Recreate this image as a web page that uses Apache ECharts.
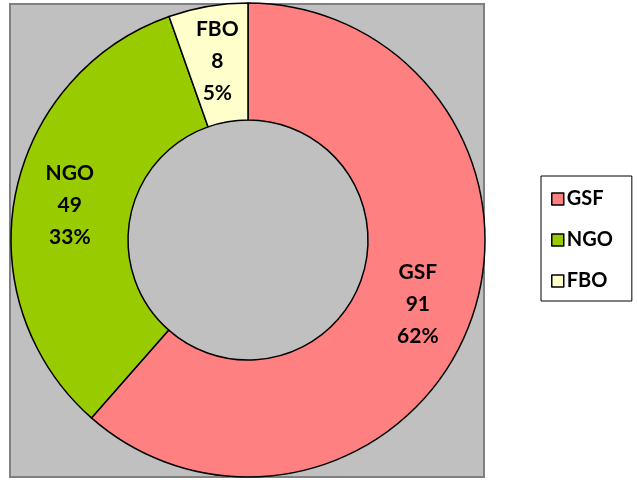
<!DOCTYPE html>
<html>
<head>
<meta charset="utf-8">
<script src="https://cdn.jsdelivr.net/npm/echarts@6/dist/echarts.min.js"></script>
<style>
  html, body { margin: 0; padding: 0; background: #fff; }
  #chart { width: 637px; height: 486px; }
</style>
</head>
<body>
<div id="chart"></div>
<script>
// data
const categories = ['GSF', 'NGO', 'FBO']
const values = [91, 49, 8]
const percents = [62, 33, 5] // as printed on the chart
const colors = ['#FF8080', '#99CC00', '#FFFFCC']

const myChart = echarts.init(document.getElementById('chart'))
const font = 'Lato, "Open Sans", sans-serif'

const option = {
  animation: false,
  // grey plot area behind the donut
  graphic: [{
    type: 'rect',
    z: -10,
    shape: { x: 10, y: 4, width: 474, height: 473 },
    style: { fill: '#C0C0C0', stroke: '#808080', lineWidth: 2 }
  }],
  legend: {
    orient: 'vertical',
    left: 541,
    top: 176,
    padding: [13, 19, 10, 10],
    itemGap: 21,
    itemWidth: 12,
    itemHeight: 12,
    icon: 'rect',
    borderColor: '#000',
    borderWidth: 1,
    itemStyle: { borderColor: '#000', borderWidth: 1.5 },
    textStyle: { fontFamily: font, fontWeight: 'bold', fontSize: 20, color: '#000', padding: [0, 0, 0, -2] },
    data: categories
  },
  series: [{
    type: 'pie',
    center: [248, 240],
    radius: [120, 237],
    startAngle: 90,
    clockwise: true,
    silent: true,
    itemStyle: { borderColor: '#000', borderWidth: 1.5 },
    label: {
      position: 'inside',
      fontFamily: font,
      fontWeight: 'bold',
      fontSize: 21,
      lineHeight: 32,
      color: '#000',
      formatter: p => p.name + '\n' + p.value + '\n' + percents[p.dataIndex] + '%'
    },
    labelLine: { show: false },
    data: categories.map((c, i) => ({ name: c, value: values[i], itemStyle: { color: colors[i] } }))
  }]
}
myChart.setOption(option)
</script>
</body>
</html>
